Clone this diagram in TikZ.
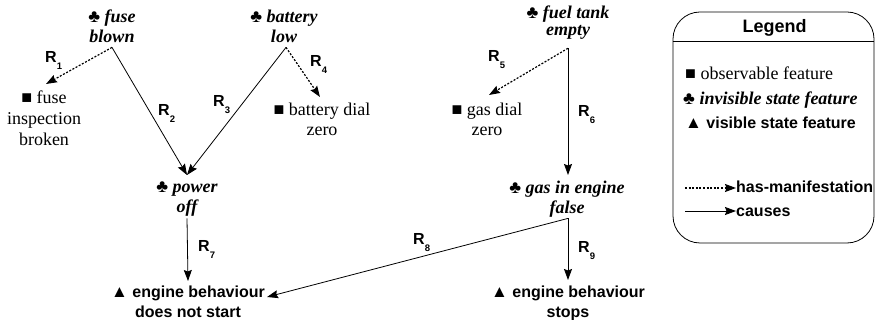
\documentclass[tikz,border=0pt]{standalone}
\usepackage{fontspec}
\setmainfont{Liberation Serif}
\setsansfont{Liberation Sans}
\usetikzlibrary{arrows.meta,calc}
\newcommand\obsym{{\normalfont ■}}
\newcommand\invsym{{\normalfont ♣}}
\newcommand\vissym{{\fontsize{17}{10}\selectfont ▲}}
\newcommand\rsub[1]{\raisebox{-7pt}{\fontsize{9.5}{10}\selectfont #1}}
\tikzset{
  feat/.style={inner sep=0pt, align=center, anchor=north, font=\fontsize{18}{20}\selectfont},
  inv/.style={inner sep=0pt, align=center, anchor=north, font=\fontsize{18}{20}\selectfont\bfseries\itshape},
  vis/.style={inner sep=0pt, align=center, anchor=north, font=\fontsize{16}{20}\selectfont\sffamily\bfseries},
  rlab/.style={inner sep=0pt, anchor=base west, font=\fontsize{16}{16}\selectfont\sffamily\bfseries},
  lg/.style={inner sep=0pt, anchor=base west, font=\fontsize{18}{20}\selectfont},
  lgs/.style={inner sep=0pt, anchor=base west, font=\fontsize{16}{20}\selectfont\sffamily\bfseries},
  tipshape/.tip={Stealth[length=11pt,width=8pt,inset=1.5pt]},
  manif/.style={line width=1.2pt, dash pattern=on 2pt off 1.6pt, -tipshape},
  cause/.style={line width=0.8pt, -tipshape},
}
\begin{document}
\begin{tikzpicture}[x=1pt,y=-1pt]
\useasboundingbox (0,0) rectangle (876,320);

% feature nodes
\node[inv] (fuse) at (112,8) {\strut\invsym\ fuse\\blown\strut};
\node[inv] (batt) at (284,8) {\strut\invsym\ battery\\low\strut};
\node[inv, font=\fontsize{18}{17}\selectfont\bfseries\itshape] (fuel) at (568,6.1) {\strut\invsym\ fuel tank\\empty\strut};
\node[feat, font=\fontsize{18}{21}\selectfont] (insp) at (44,88.3) {\strut\obsym\ fuse\\inspection\\broken\strut};
\node[feat] (bdial) at (322,101) {\strut\obsym\ battery dial\\zero\strut};
\node[feat] (gdial) at (487,101) {\strut\obsym\ gas dial\\zero\strut};
\node[inv] (power) at (187,178) {\strut\invsym\ power\\off\strut};
\node[inv] (gas) at (567,179) {\strut\invsym\ gas in engine\\false\strut};
\node[vis] (start) at (188,283) {\strut\vissym\ engine behaviour\\does not start\strut};
\node[vis] (stops) at (568,283) {\strut\vissym\ engine behaviour\\stops\strut};

% connectors
\draw[manif] ([yshift=1pt]fuse.south) -- ([shift={(2pt,4.3pt)}]insp.north);
\draw[cause] ([yshift=1pt]fuse.south) -- ([yshift=3pt]power.north);
\draw[cause] ([shift={(2pt,1pt)}]batt.south) -- ([yshift=3pt]power.north);
\draw[manif] ([shift={(2pt,1pt)}]batt.south) -- ([shift={(-2pt,4pt)}]bdial.north);
\draw[manif] ([yshift=-7pt]fuel.south) -- ([shift={(2pt,6pt)}]gdial.north);
\draw[cause] ([yshift=-7pt]fuel.south) -- ([shift={(1pt,4pt)}]gas.north);
\draw[cause] (power.south) -- ([yshift=2pt]start.north);
\draw[cause] ([shift={(1pt,1pt)}]gas.south) -- ([shift={(2pt,-14pt)}]start.north east);
\draw[cause] ([shift={(1pt,1pt)}]gas.south) -- ([yshift=3pt]stops.north);

% relation labels
\node[rlab] (r1) at (45,63) {R\rsub{1}};
\node[rlab] (r2) at (158,116) {R\rsub{2}};
\node[rlab] (r3) at (213,107) {R\rsub{3}};
\node[rlab] (r4) at (310,67) {R\rsub{4}};
\node[rlab] (r5) at (488,62) {R\rsub{5}};
\node[rlab] (r6) at (578,117) {R\rsub{6}};
\node[rlab] (r7) at (198,252) {R\rsub{7}};
\node[rlab] (r8) at (413,245) {R\rsub{8}};
\node[rlab] (r9) at (578,253) {R\rsub{9}};

% legend
\node[draw, line width=0.8pt, rounded corners=27pt, minimum width=201pt, minimum height=231pt, inner sep=0pt] (legend) at (773.5,127.5) {};
\draw[line width=0.8pt] ([yshift=-30pt]legend.north west) -- ([yshift=-30pt]legend.north east);
\node[inner sep=0pt, anchor=base, font=\fontsize{18}{18}\selectfont\sffamily\bfseries] (legtitle) at (774.5,33) {Legend};
\node[lg] (lobs) at (685,80) {\obsym\ observable feature};
\node[lg, font=\fontsize{18}{20}\selectfont\bfseries\itshape] (linv) at (683,105) {\invsym\ invisible state feature};
\node[lgs] (lvis) at (685,129) {\vissym\ visible state feature};
\node[lgs] (lman) at (736,193) {has-manifestation};
\node[lgs] (lcau) at (736,217) {causes};
\coordinate (lman0) at (685,188);
\coordinate (lcau0) at (685,211);
\draw[manif] (lman0) -- (lman0 -| lman.west);
\draw[cause] (lcau0) -- (lcau0 -| lcau.west);
\end{tikzpicture}
\end{document}
